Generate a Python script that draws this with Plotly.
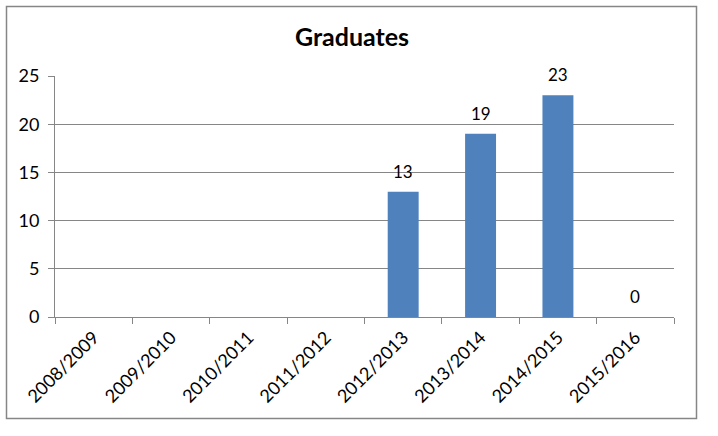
import plotly.graph_objects as go

categories = ["2008/2009", "2009/2010", "2010/2011", "2011/2012",
              "2012/2013", "2013/2014", "2014/2015", "2015/2016"]
graduates = [None, None, None, None, 13, 19, 23, 0]
y_ticks = [0, 5, 10, 15, 20, 25]

W, H = 718, 436
L, R, T, B = 55, 674, 76, 317
pw, ph = R - L, B - T

fig = go.Figure(go.Bar(
    x=categories, y=graduates,
    marker=dict(color="#4F81BD", line=dict(width=0)),
    cliponaxis=False,
    width=0.4,
))

for c, v in zip(categories, graduates):
    if v is None:
        continue
    fig.add_annotation(x=c, y=v, xref="x", yref="y", text=str(v),
                       showarrow=False, yanchor="bottom", yshift=8,
                       font=dict(size=17, color="#000000", family="Lato"))

fig.update_layout(
    width=W, height=H,
    margin=dict(l=L, r=W - R, t=T, b=H - B, pad=0, autoexpand=False),
    paper_bgcolor="white", plot_bgcolor="white",
    font=dict(family="Lato", size=17, color="#000000"),
    title=dict(text="<b>Graduates</b>", x=352 / W, xanchor="center",
               y=1 - 37 / H, yanchor="middle",
               font=dict(size=25, family="Lato", color="#000000")),
    showlegend=False,
    xaxis=dict(
        type="category", showline=True, linecolor="#868686", linewidth=1,
        ticks="outside", tickson="boundaries", ticklen=6, tickcolor="#868686",
        tickangle=-45, showgrid=False, tickfont=dict(size=18),
        range=[-0.5, 7.5], automargin=False, ticklabelstandoff=2,
    ),
    yaxis=dict(
        range=[0, 25], tickvals=y_ticks, showline=True, linecolor="#868686",
        linewidth=1, ticks="outside", ticklen=6, tickcolor="#868686",
        showgrid=True, gridcolor="#868686", gridwidth=1, zeroline=False,
        tickfont=dict(size=18), automargin=False, ticklabelstandoff=5,
    ),
    shapes=[dict(
        type="rect", xref="paper", yref="paper",
        x0=(6.5 - L) / pw, x1=(696.5 - L) / pw,
        y0=(B - 418.5) / ph, y1=(B - 6.5) / ph,
        line=dict(color="#868686", width=1.5), fillcolor="rgba(0,0,0,0)",
        layer="above",
    )],
)

fig.write_html("out.html", config={"displayModeBar": False},
               post_script="document.body.style.margin='0';document.body.style.padding='0';")
